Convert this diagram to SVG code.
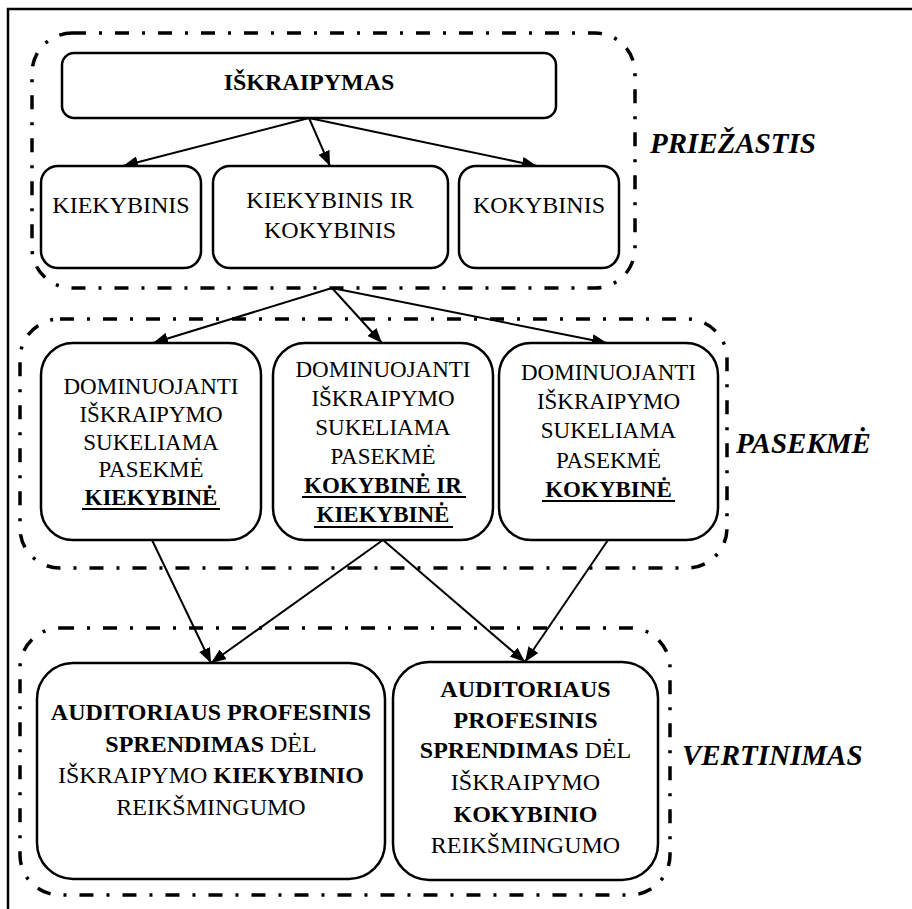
<svg xmlns="http://www.w3.org/2000/svg" width="912" height="909" viewBox="0 0 912 909">
<defs>
<style>
.frame{fill:none;stroke:#000;stroke-width:2.5}
.grp{fill:none;stroke:#000;stroke-width:3.5;stroke-dasharray:14 13 3 13}
.box{fill:#fff;stroke:#000;stroke-width:2.5}
text{font-family:'Liberation Serif','Times New Roman',serif}
.t{fill:#000;text-anchor:middle}
.s24{font-size:24px}
.s23{font-size:23px}
.b{font-weight:bold}
.lbl{font-size:29px;font-weight:bold;font-style:italic;fill:#000}
.ul{stroke:#000;stroke-width:2.2}
.con{stroke:#000;stroke-width:2;fill:none;marker-end:url(#ah)}
</style>
<marker id="ah" viewBox="0 0 15 12" refX="15" refY="6" markerWidth="15" markerHeight="12" markerUnits="userSpaceOnUse" orient="auto">
<path d="M0,0 L15,6 L0,12 z" fill="#000"/>
</marker>
</defs>
<rect width="912" height="909" fill="#fff"/>
<rect class="frame" x="8" y="9" width="910" height="910"/>

<g id="group-priezastis">
<rect class="grp" x="32" y="33" width="603" height="255" rx="40"/>
<text class="lbl" x="650" y="153">PRIEŽASTIS</text>
</g>
<g id="group-pasekme">
<rect class="grp" x="20" y="319" width="707" height="249" rx="40"/>
<text class="lbl" x="736" y="453">PASEKMĖ</text>
</g>
<g id="group-vertinimas">
<rect class="grp" x="20" y="628" width="650" height="267" rx="40"/>
<text class="lbl" x="682" y="765">VERTINIMAS</text>
</g>

<g id="connectors">
<line class="con" x1="309" y1="118" x2="123" y2="166"/>
<line class="con" x1="309" y1="118" x2="330" y2="166"/>
<line class="con" x1="309" y1="118" x2="537" y2="166"/>
<line class="con" x1="332" y1="288" x2="153" y2="343"/>
<line class="con" x1="332" y1="288" x2="382" y2="343"/>
<line class="con" x1="332" y1="288" x2="607" y2="343"/>
<line class="con" x1="152" y1="540" x2="211" y2="663"/>
<line class="con" x1="383" y1="540" x2="211" y2="663"/>
<line class="con" x1="383" y1="540" x2="525" y2="662"/>
<line class="con" x1="608" y1="540" x2="525" y2="662"/>
</g>

<g id="node-iskraipymas">
<rect class="box" x="62" y="53" width="494" height="65" rx="12"/>
<text class="t s24 b" x="309" y="90">IŠKRAIPYMAS</text>
</g>
<g id="node-kiekybinis">
<rect class="box" x="41" y="166" width="160" height="102" rx="17"/>
<text class="t s24" x="121" y="213">KIEKYBINIS</text>
</g>
<g id="node-kiekybinis-ir-kokybinis">
<rect class="box" x="213" y="166" width="235" height="102" rx="17"/>
<text class="t s24" x="330" y="208">KIEKYBINIS IR</text>
<text class="t s24" x="330" y="238">KOKYBINIS</text>
</g>
<g id="node-kokybinis">
<rect class="box" x="459" y="166" width="160" height="102" rx="17"/>
<text class="t s24" x="539" y="213">KOKYBINIS</text>
</g>

<g id="node-pasekme-kiekybine">
<rect class="box" x="41" y="343" width="220" height="197" rx="32"/>
<text class="t s23" x="151" y="394">DOMINUOJANTI</text>
<text class="t s23" x="151" y="422">IŠKRAIPYMO</text>
<text class="t s23" x="151" y="450">SUKELIAMA</text>
<text class="t s23" x="151" y="477">PASEKMĖ</text>
<text class="t s23 b" x="151" y="505">KIEKYBINĖ</text>
<line class="ul" x1="82" y1="509" x2="220" y2="509"/>
</g>
<g id="node-pasekme-kokybine-ir-kiekybine">
<rect class="box" x="273" y="343" width="220" height="197" rx="32"/>
<text class="t s23" x="383" y="377">DOMINUOJANTI</text>
<text class="t s23" x="383" y="406">IŠKRAIPYMO</text>
<text class="t s23" x="383" y="435">SUKELIAMA</text>
<text class="t s23" x="383" y="464">PASEKMĖ</text>
<text class="t s23 b" x="383" y="493">KOKYBINĖ IR</text>
<line class="ul" x1="302" y1="497" x2="466" y2="497"/>
<text class="t s23 b" x="383" y="522">KIEKYBINĖ</text>
<line class="ul" x1="314" y1="527" x2="453" y2="527"/>
</g>
<g id="node-pasekme-kokybine">
<rect class="box" x="499" y="343" width="219" height="197" rx="32"/>
<text class="t s23" x="608.5" y="380">DOMINUOJANTI</text>
<text class="t s23" x="608.5" y="409">IŠKRAIPYMO</text>
<text class="t s23" x="608.5" y="438">SUKELIAMA</text>
<text class="t s23" x="608.5" y="468">PASEKMĖ</text>
<text class="t s23 b" x="608.5" y="497">KOKYBINĖ</text>
<line class="ul" x1="542" y1="501" x2="675" y2="501"/>
</g>

<g id="node-vertinimas-kiekybinio">
<rect class="box" x="37" y="663" width="348" height="216" rx="36"/>
<text class="t s24" x="211" y="720"><tspan class="b">AUDITORIAUS PROFESINIS</tspan></text>
<text class="t s24" x="211" y="752"><tspan class="b">SPRENDIMAS</tspan> DĖL</text>
<text class="t s24" x="211" y="783">IŠKRAIPYMO <tspan class="b">KIEKYBINIO</tspan></text>
<text class="t s24" x="211" y="815">REIKŠMINGUMO</text>
</g>
<g id="node-vertinimas-kokybinio">
<rect class="box" x="393" y="662" width="265" height="218" rx="36"/>
<text class="t s24 b" x="525.5" y="697">AUDITORIAUS</text>
<text class="t s24 b" x="525.5" y="728">PROFESINIS</text>
<text class="t s24" x="525.5" y="758"><tspan class="b">SPRENDIMAS</tspan> DĖL</text>
<text class="t s24" x="525.5" y="790">IŠKRAIPYMO</text>
<text class="t s24 b" x="525.5" y="822">KOKYBINIO</text>
<text class="t s24" x="525.5" y="853">REIKŠMINGUMO</text>
</g>
</svg>
